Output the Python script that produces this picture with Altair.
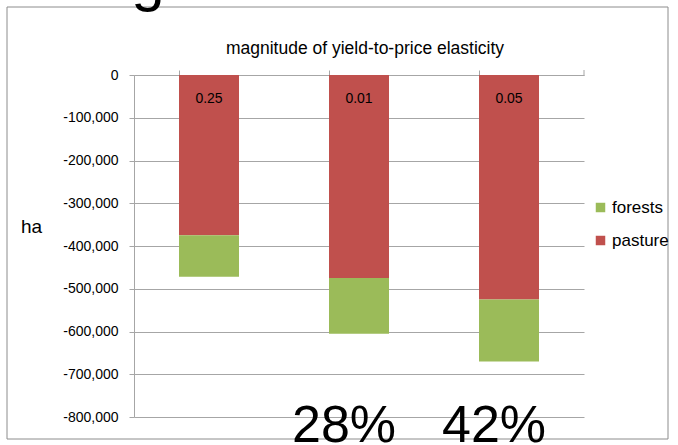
import altair as alt
import pandas as pd

# Land-use change (ha) per scenario, stacked below zero
scenarios = ["s1", "s2", "s3"]
elasticity_labels = ["0.25", "0.01", "0.05"]
pasture = [-375000, -475000, -525000]
forests = [-97000, -130000, -145000]
share_labels = ["", "28%", "42%"]

series_names = ["forests", "pasture"]
series_colors = ["#9BBB59", "#C0504D"]

rows = []
for i, s in enumerate(scenarios):
    rows.append({"scenario": s, "type": "pasture", "ha": pasture[i], "ord": 0})
    rows.append({"scenario": s, "type": "forests", "ha": forests[i], "ord": 1})
bars_df = pd.DataFrame(rows)

labels_df = pd.DataFrame({
    "scenario": scenarios,
    "elasticity": elasticity_labels,
    "share": share_labels,
})
one = pd.DataFrame({"k": [0]})

FONT = "Liberation Sans"
GRID = "#A6A6A6"

x_enc = alt.X(
    "scenario:N",
    sort=scenarios,
    scale=alt.Scale(paddingInner=0.6, paddingOuter=0.3),
    axis=alt.Axis(
        orient="top", title=None, labels=False, domainColor=GRID,
        tickColor=GRID, tickSize=5, bandPosition=0,
    ),
)

bars = alt.Chart(bars_df).mark_bar().encode(
    x=x_enc,
    y=alt.Y(
        "ha:Q",
        stack="zero",
        scale=alt.Scale(domain=[-800000, 0], nice=False),
        axis=alt.Axis(
            title=None, values=list(range(-800000, 1, 100000)),
            labelExpr="datum.value == 0 ? '0' : '-' + format(-datum.value, ',d')",
            labelFont=FONT, labelFontSize=14, labelColor="#000000",
            labelPadding=11, tickSize=5, tickColor=GRID, domainColor=GRID,
            gridColor=GRID, grid=True,
        ),
    ),
    color=alt.Color(
        "type:N",
        scale=alt.Scale(domain=series_names, range=series_colors),
        legend=alt.Legend(
            title=None, orient="none", legendX=458, legendY=124,
            symbolType="square", symbolSize=90, symbolStrokeWidth=0,
            labelFont=FONT, labelFontSize=17, labelColor="#000000",
            labelOffset=3, rowPadding=15, padding=0,
        ),
    ),
    order=alt.Order("ord:Q"),
)

elasticity_text = alt.Chart(labels_df).mark_text(
    font=FONT, fontSize=14, color="#000000", baseline="middle"
).encode(x=alt.X("scenario:N", sort=scenarios), y=alt.value(24), text="elasticity:N")

share_text = alt.Chart(labels_df).mark_text(
    font=FONT, fontSize=52, color="#000000", baseline="alphabetic", dx=-15
).encode(x=alt.X("scenario:N", sort=scenarios), y=alt.value(367), text="share:N")

last_tick = alt.Chart(one).mark_rule(color=GRID).encode(
    x=alt.value(450), y=alt.value(-5), y2=alt.value(0)
)

frame = alt.Chart(one).mark_rect(fill=None, stroke="#8C8C8C", strokeWidth=1).encode(
    x=alt.value(-127), x2=alt.value(534), y=alt.value(-68), y2=alt.value(364)
)

title_text = alt.Chart(one).mark_text(
    font=FONT, fontSize=17.5, color="#000000", baseline="middle"
).encode(x=alt.value(231), y=alt.value(-26), text=alt.value("magnitude of yield-to-price elasticity"))

ha_text = alt.Chart(one).mark_text(
    font=FONT, fontSize=19, color="#000000", baseline="middle", align="left"
).encode(x=alt.value(-113), y=alt.value(152), text=alt.value("ha"))

big_g = alt.Chart(one).mark_text(
    font=FONT, fontSize=60, color="#000000", baseline="alphabetic"
).encode(x=alt.value(14), y=alt.value(-75), text=alt.value("g"))

chart = alt.layer(
    frame, bars, last_tick, elasticity_text, share_text, title_text, ha_text, big_g
).properties(
    width=450,
    height=342,
    autosize=alt.AutoSizeParams(type="none"),
    padding={"left": 134, "top": 75, "right": 94, "bottom": 28},
    background="#FFFFFF",
).configure_view(stroke=None)

chart.save("out.html", embed_options={"renderer": "svg", "actions": False})
